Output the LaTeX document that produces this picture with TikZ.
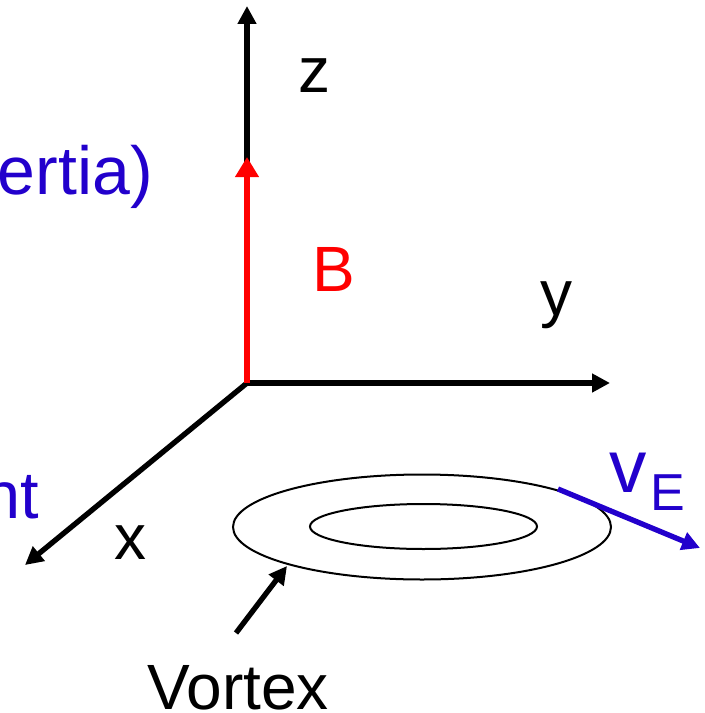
\documentclass[tikz,border=0pt]{standalone}
\usepackage{fontspec}
\setmainfont{Liberation Sans}
\usetikzlibrary{arrows.meta}
\definecolor{myblue}{RGB}{34,0,204}
\definecolor{myred}{RGB}{255,0,0}
\tikzset{
  axis/.style={line width=4pt,-{Triangle[length=13.5pt,width=13.5pt]}},
  bvec/.style={line width=5.2pt,myred,-{Triangle[length=15pt,width=17pt]}},
  vvec/.style={line width=4pt,myblue,-{Triangle[length=13.5pt,width=13.5pt]}},
  lbl/.style={font=\fontsize{48}{56}\selectfont,inner sep=0pt},
  ring/.style={line width=1.5pt}
}
\begin{document}
\begin{tikzpicture}[x=0.75pt,y=-0.75pt]
\useasboundingbox (0,0) rectangle (704,713);
\coordinate (O) at (247,383);
\coordinate (zt) at (247,6);
\coordinate (yt) at (610,383);
\coordinate (xt) at (25,565);
\coordinate (Bt) at (247,157);
\draw[axis] (O) -- (zt);
\draw[axis] (O) -- (yt);
\draw[axis] (O) -- (xt);
\draw[bvec] (O) -- (Bt);
\node[lbl] (zl) at (314,76) {z};
\node[lbl] (yl) at (556,305) {y};
\node[lbl] (xl) at (130,543) {x};
\node[lbl,myred] (Bl) at (334,269) {B};
\node[lbl,font=\fontsize{51}{60}\selectfont,myblue,anchor=base east] (inertia) at (153,195) {ertia)};
\node[lbl,font=\fontsize{50}{60}\selectfont,myblue,anchor=base east] (nt) at (39,518) {nt};
\draw[ring] (422,527) ellipse [x radius=189, y radius=52.5];
\draw[ring] (423.5,526.5) ellipse [x radius=113.5, y radius=22.5];
\coordinate (vs) at (558,489);
\coordinate (ve) at (700,548);
\draw[vvec] (vs) -- (ve);
\node[lbl,font=\fontsize{56}{60}\selectfont,myblue,anchor=base west] (vl) at (609,492) {v};
\node[lbl,font=\fontsize{39}{44}\selectfont,myblue,anchor=base west] (El) at (650,510) {E};
\coordinate (vortexpt) at (287,566);
\coordinate (vortexstart) at (236,633);
\draw[axis] (vortexstart) -- (vortexpt);
\node[lbl] (vortex) at (238,688) {Vortex};
\end{tikzpicture}
\end{document}
